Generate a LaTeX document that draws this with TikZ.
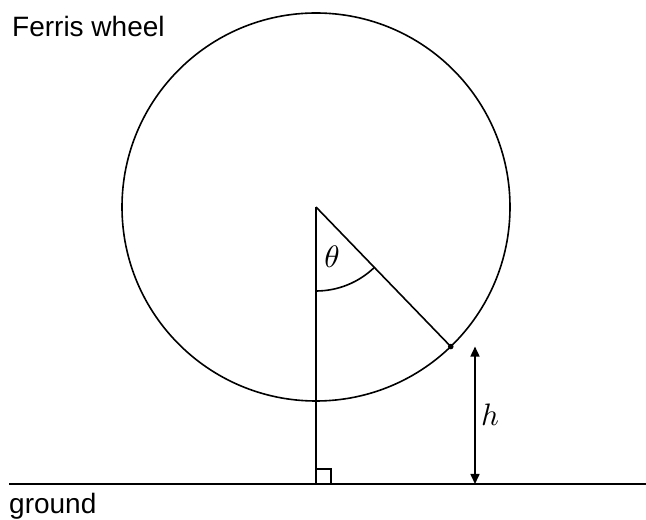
\documentclass[tikz,border=0pt]{standalone}
\usepackage{fontspec}
\setmainfont{Liberation Sans}
\usetikzlibrary{arrows.meta}
\begin{document}
\begin{tikzpicture}[x=1pt,y=1pt,
  line/.style={line width=1.6pt,black},
  lbl/.style={font=\fontsize{28}{34}\selectfont,inner sep=0pt},
  mlbl/.style={inner sep=0pt,scale=3.1}]
\useasboundingbox (0,0) rectangle (646,520);
\coordinate (O) at (316,313);
\coordinate (P) at ([shift={(-46:194)}]O);
\coordinate (F) at (316,36);
\coordinate (GL) at (9,36);
\coordinate (GR) at (646,36);
\coordinate (Hbot) at (475,36);
\coordinate (Htop) at (Hbot |- P);
% wheel
\draw[line] (O) circle (194);
% ground
\draw[line] (GL) -- (GR);
% radii
\draw[line] (O) -- (F);
\draw[line] (O) -- (P);
\fill (P) circle (2.8);
% angle arc
\draw[line] ([shift={(-90:84)}]O) arc (-90:-46:84);
% right angle
\draw[line] ([shift={(0,15)}]F) -- ([shift={(15,15)}]F) -- ([shift={(15,0)}]F);
% height arrow
\draw[line,{Triangle[length=10pt,width=9pt]}-{Triangle[length=10pt,width=9pt]}] (Htop) -- (Hbot);
% labels
\node[mlbl] (theta) at (332,263) {$\theta$};
\node[mlbl] (h) at (490,105) {$h$};
\node[lbl,anchor=base west] (fw) at (12,483) {Ferris wheel};
\node[lbl,anchor=base west] (gr) at (9,6) {ground};
\end{tikzpicture}
\end{document}
